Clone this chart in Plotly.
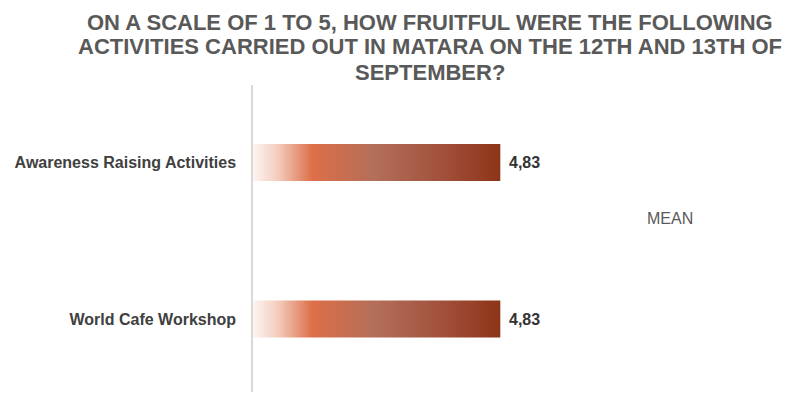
import plotly.graph_objects as go

categories = ["Awareness Raising Activities", "World Cafe Workshop"]
values = [4.83, 4.83]
series_name = "MEAN"
title_lines = ["ON A SCALE OF 1 TO 5, HOW FRUITFUL WERE THE FOLLOWING",
               "ACTIVITIES CARRIED OUT IN MATARA ON THE 12TH AND 13TH OF",
               "SEPTEMBER?"]

gradient = [[0.0, "#FDF4F1"], [0.10, "#F3CDBE"], [0.24, "#DD6F48"],
            [0.50, "#B26E59"], [0.75, "#A2523D"], [1.0, "#8E3418"]]
half = 0.118
W, H = 799, 393
ML, MR, MT, MB = 253, 290, 85, 1
pw, ph = W - ML - MR, H - MT - MB

fig = go.Figure()
n = len(categories)
ypos = [n - 1 - i for i in range(n)]
for yc, v in zip(ypos, values):
    fig.add_trace(go.Scatter(
        x=[0, v, v, 0, 0],
        y=[yc - half, yc - half, yc + half, yc + half, yc - half],
        mode="lines", line=dict(width=0), fill="toself",
        fillgradient=dict(type="horizontal", colorscale=gradient, start=0, stop=v),
        showlegend=False, hoverinfo="skip", name=series_name))

annotations = []
for yc, v in zip(ypos, values):
    annotations.append(dict(
        x=v, y=yc, xref="x", yref="y", xanchor="left", yanchor="middle", xshift=7,
        text="<b>" + f"{v:.2f}".replace(".", ",") + "</b>", showarrow=False,
        font=dict(family="Liberation Sans, Arial", size=16, color="#333333")))

title_centers = [22.5, 47, 72]
for line, yc in zip(title_lines, title_centers):
    annotations.append(dict(
        text="<b>" + line + "</b>", xref="paper", yref="paper",
        x=(430 - ML) / pw, y=(H - MB - yc) / ph,
        xanchor="center", yanchor="middle", showarrow=False,
        font=dict(family="Liberation Sans, Arial", size=22, color="#595959")))

annotations.append(dict(text=series_name, xref="paper", yref="paper",
                        x=(645 - ML) / pw, y=(H - MB - 218) / ph,
                        xanchor="left", yanchor="middle", showarrow=False,
                        font=dict(family="Liberation Sans, Arial", size=16, color="#595959")))

fig.update_layout(
    width=W, height=H,
    margin=dict(l=ML, r=MR, t=MT, b=MB),
    paper_bgcolor="white", plot_bgcolor="white",
    showlegend=False,
    annotations=annotations,
)
fig.update_xaxes(range=[0, 5], showgrid=False, zeroline=False, showticklabels=False,
                 showline=False)
fig.update_yaxes(range=[-0.466, 1.495], tickvals=ypos,
                 ticktext=["<b>" + c + "</b>" for c in categories],
                 tickfont=dict(family="Liberation Sans, Arial", size=16, color="#404040"),
                 showgrid=False, zeroline=False, showline=True, linecolor="#D9D9D9",
                 linewidth=1.5, ticks="outside", ticklen=12, tickcolor="rgba(0,0,0,0)")

fig.write_html("out.html")
